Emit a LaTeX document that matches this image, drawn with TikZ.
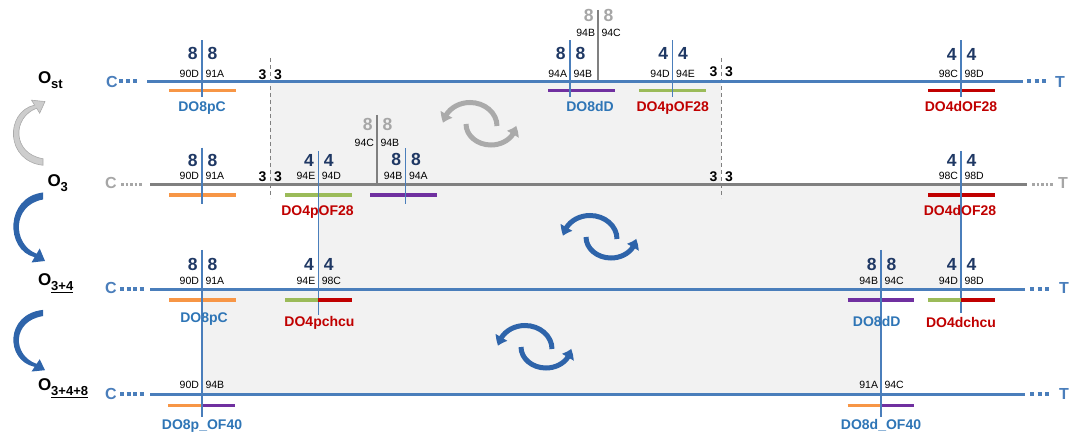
\documentclass[tikz,border=0pt]{standalone}
\usepackage{fontspec}
\setmainfont{Liberation Sans}
\usetikzlibrary{arrows.meta,bending}
\definecolor{lblue}{RGB}{74,126,187}
\definecolor{lgray}{RGB}{128,128,128}
\definecolor{navy}{RGB}{31,56,100}
\definecolor{dgray}{RGB}{166,166,166}
\definecolor{tblue}{RGB}{46,117,182}
\definecolor{tred}{RGB}{192,0,0}
\definecolor{borange}{RGB}{247,150,70}
\definecolor{bgreen}{RGB}{155,187,89}
\definecolor{bpurple}{RGB}{112,48,160}
\definecolor{bgshade}{RGB}{242,242,242}
\definecolor{arrblue}{RGB}{46,100,170}
\definecolor{arrgray}{RGB}{170,170,170}
\definecolor{arrgrayfill}{RGB}{205,205,205}
\newcommand\mkdig[6]{%
  \node[#6, anchor=base east] (#1l) at (#2-4.5,#3) {#4};
  \node[#6, anchor=base west] (#1r) at (#2+5.5,#3) {#5};}
\newcommand\mksm[5]{%
  \node[sm, anchor=base east] (#1l) at (#2-3,#3) {#4};
  \node[sm, anchor=base west] (#1r) at (#2+3.5,#3) {#5};}
\newcommand\mkthree[3]{%
  \node[thr, anchor=base east] (#1l) at (#2-3.5,#3) {3};
  \node[thr, anchor=base west] (#1r) at (#2+4,#3) {3};}
\begin{document}
\begin{tikzpicture}[x=1pt,y=-1pt,
  every node/.style={inner sep=0pt, outer sep=0pt},
  mainline/.style={line width=3pt},
  tick/.style={line width=1.5pt, draw=lblue},
  gtick/.style={line width=1.5pt, draw=lgray},
  bar/.style={line width=3.5pt},
  dig/.style={font=\fontsize{17.5}{17.5}\selectfont\bfseries, text=navy},
  gdig/.style={font=\fontsize{17.5}{17.5}\selectfont\bfseries, text=dgray},
  sm/.style={font=\fontsize{10.5}{10.5}\selectfont, text=black},
  thr/.style={font=\fontsize{14}{14}\selectfont\bfseries, text=black},
  dob/.style={font=\fontsize{14}{14}\selectfont\bfseries, text=tblue, anchor=base},
  dor/.style={font=\fontsize{14}{14}\selectfont\bfseries, text=tred, anchor=base},
  olab/.style={font=\fontsize{17}{17}\selectfont\bfseries, anchor=base west},
  ends/.style={font=\fontsize{16}{16}\selectfont\bfseries, anchor=base west},
  dashv/.style={dash pattern=on 4pt off 3pt, line width=1pt, draw=lgray},
  bigdots/.style={line width=4pt},
  smalldots/.style={line width=2.5pt},
  cycln/.style={line width=5pt, -{Triangle[width=13pt,length=9pt,bend]}},
  pics/cyc/.style={code={
    \draw[cycln] (17,1) arc[start angle=0,end angle=-172,x radius=27,y radius=23.5];
    \draw[cycln] (-14,-1) arc[start angle=180,end angle=5,x radius=25,y radius=21];
  }},
  pics/sidearrow/.style={code={
    \path[line width=0.6pt, pic actions] (0,-3.5) .. controls (-38,1) and (-38,54) .. (-8.4,61.2)
      -- (-11.5,66.5) -- (2,65) -- (-3.3,52.5) -- (-6.4,57.8)
      .. controls (-31,48) and (-31,9) .. (0,3.5) -- cycle;
  }}
]
\useasboundingbox (0,0) rectangle (1078,435);

% shaded regions
\fill[bgshade] (270,81.5) rectangle (721,184.7);
\fill[bgshade] (318,184.7) rectangle (961,289.3);
\fill[bgshade] (202,289.3) rectangle (881,394.3);

% dashed separators
\coordinate (dA1) at (270,58); \coordinate (dA2) at (270,198);
\coordinate (dB1) at (721,58); \coordinate (dB2) at (721,198);
\draw[dashv] (dA1) -- (dA2);
\draw[dashv] (dB1) -- (dB2);

% row labels
\node[olab] (lst) at (38,84) {O\raisebox{-5pt}{\fontsize{13}{13}\selectfont st}};
\node[olab] (l3) at (47.5,186.7) {O\raisebox{-5pt}{\fontsize{13}{13}\selectfont 3}};
\node[olab] (l34) at (38,286) {O\raisebox{-4.5pt}{\fontsize{13}{13}\selectfont\underline{3+4}}};
\node[olab] (l348) at (38,390.7) {O\raisebox{-4.5pt}{\fontsize{13}{13}\selectfont\underline{3+4+8}}};

% side arrows
\pic[yscale=-0.93, fill=arrgrayfill, draw=arrgray] (sideG) at (43,162) {sidearrow};
\pic[fill=arrblue] (sideB1) at (43,196) {sidearrow};
\pic[yscale=0.88, fill=arrblue] (sideB2) at (43,313) {sidearrow};

% ===== Row Ost (y=81.5)
\node[ends, text=lblue] (c1) at (106,87.3) {C};
\node[ends, text=lblue] (t1) at (1055,87.3) {T};
\coordinate (r1s) at (147,81.5); \coordinate (r1e) at (1023,81.5);
\coordinate (r1a) at (119,81.5); \coordinate (r1b) at (137.5,81.5);
\coordinate (r1c) at (1027,81.5); \coordinate (r1d) at (1046.5,81.5);
\draw[bigdots, lblue, dash pattern=on 4pt off 3pt] (r1a) -- (r1b);
\draw[bigdots, lblue, dash pattern=on 4pt off 3.5pt] (r1c) -- (r1d);
\draw[mainline, lblue] (r1s) -- (r1e);
\draw[bar, borange] (169,90.7) -- (235.7,90.7);
\draw[bar, bpurple] (548,90.7) -- (615,90.7);
\draw[bar, bgreen] (639,90.7) -- (706,90.7);
\draw[bar, tred] (928,90.7) -- (995,90.7);
\draw[tick] (202,40.5) -- (202,96.7);
\draw[tick] (570,40.5) -- (570,96.7);
\draw[gtick] (598,10) -- (598,80);
\draw[tick] (672.7,40.5) -- (672.7,96.7);
\draw[tick] (961,40.5) -- (961,96.7);
\mkdig{a1}{202}{60}{8}{8}{dig}
\mksm{s1}{202}{77.5}{90D}{91A}
\mkdig{a2}{570}{60}{8}{8}{dig}
\mksm{s2}{570}{77.5}{94A}{94B}
\mkdig{a3}{598}{21.7}{8}{8}{gdig}
\mksm{s3}{598}{36.7}{94B}{94C}
\mkdig{a4}{672.7}{60}{4}{4}{dig}
\mksm{s4}{672.7}{77.5}{94D}{94E}
\mkdig{a5}{961}{60.5}{4}{4}{dig}
\mksm{s5}{961}{77.5}{98C}{98D}
\mkthree{h1}{270}{79.5}
\mkthree{h2}{721}{76.5}
\node[dob] (n1) at (202,112) {DO8pC};
\node[dob] (n2) at (590,112) {DO8dD};
\node[dor] (n3) at (672.7,112) {DO4pOF28};
\node[dor] (n4) at (961,112) {DO4dOF28};

% ===== Row O3 (y=184.7)
\node[ends, text=dgray] (c2) at (105,188.3) {C};
\node[ends, text=dgray] (t2) at (1058,188.3) {T};
\coordinate (r2s) at (150,184.7); \coordinate (r2e) at (1027,184.7);
\coordinate (r2a) at (121,184.7); \coordinate (r2b) at (142,184.7);
\coordinate (r2c) at (1032,184.7); \coordinate (r2d) at (1053,184.7);
\draw[smalldots, dgray, dash pattern=on 2.5pt off 2pt] (r2a) -- (r2b);
\draw[smalldots, dgray, dash pattern=on 2.5pt off 2pt] (r2c) -- (r2d);
\draw[mainline, lgray] (r2s) -- (r2e);
\draw[bar, borange] (169,195) -- (235.7,195);
\draw[bar, bgreen] (285,195) -- (351.7,195);
\draw[bar, bpurple] (370,195) -- (437,195);
\draw[bar, tred] (928,195) -- (995,195);
\draw[tick] (202,147.7) -- (202,204);
\draw[tick] (318.3,151) -- (318.3,315);
\draw[gtick] (377,115) -- (377,184);
\draw[tick] (405.5,148.3) -- (405.5,204);
\draw[tick] (961,151) -- (961,313);
\mkdig{b1}{202}{166.7}{8}{8}{dig}
\mksm{u1}{202}{180}{90D}{91A}
\mkdig{b2}{318.3}{166.7}{4}{4}{dig}
\mksm{u2}{318.3}{180}{94E}{94D}
\mkdig{b3}{377}{130.7}{8}{8}{gdig}
\mksm{u3}{377}{146.7}{94C}{94B}
\mkdig{b4}{405.5}{165.7}{8}{8}{dig}
\mksm{u4}{405.5}{180}{94B}{94A}
\mkdig{b5}{961}{166.7}{4}{4}{dig}
\mksm{u5}{961}{180}{98C}{98D}
\mkthree{h3}{270}{181.7}
\mkthree{h4}{721}{181.7}
\node[dor] (m1) at (317.5,216) {DO4pOF28};
\node[dor] (m2) at (960,216) {DO4dOF28};

% ===== Row O3+4 (y=289.3)
\node[ends, text=lblue] (c3) at (105,293.3) {C};
\node[ends, text=lblue] (t3) at (1059,293.8) {T};
\coordinate (r3s) at (150,289.3); \coordinate (r3e) at (1025,289.3);
\coordinate (r3a) at (120,289.3); \coordinate (r3b) at (143.5,289.3);
\coordinate (r3c) at (1030,289.3); \coordinate (r3d) at (1049,289.3);
\draw[bigdots, lblue, dash pattern=on 4pt off 2.5pt] (r3a) -- (r3b);
\draw[bigdots, lblue, dash pattern=on 4pt off 3.5pt] (r3c) -- (r3d);
\draw[mainline, lblue] (r3s) -- (r3e);
\draw[bar, borange] (169,300) -- (235.7,300);
\draw[bar, bgreen] (285,300) -- (318.3,300);
\draw[bar, tred] (318.3,300) -- (351.7,300);
\draw[bar, bpurple] (847.7,300) -- (914.3,300);
\draw[bar, bgreen] (927.5,300) -- (961,300);
\draw[bar, tred] (961,300) -- (994.5,300);
\draw[tick] (202,250) -- (202,416.7);
\draw[tick] (881,250) -- (881,416.7);
\mkdig{c1d}{202}{270.7}{8}{8}{dig}
\mksm{v1}{202}{285}{90D}{91A}
\mkdig{c2d}{318.3}{270.7}{4}{4}{dig}
\mksm{v2}{318.3}{285}{94E}{98C}
\mkdig{c3d}{881}{270.7}{8}{8}{dig}
\mksm{v3}{881}{285}{94B}{94C}
\mkdig{c4d}{961}{270.2}{4}{4}{dig}
\mksm{v4}{961}{285}{94D}{98D}
\node[dob] (k1) at (204,322.7) {DO8pC};
\node[dor] (k2) at (319.5,326.7) {DO4pchcu};
\node[dob] (k3) at (876.7,326.3) {DO8dD};
\node[dor] (k4) at (961,327) {DO4dchcu};

% ===== Row O3+4+8 (y=394.3)
\node[ends, text=lblue] (c4) at (105,399) {C};
\node[ends, text=lblue] (t4) at (1059,399) {T};
\coordinate (r4s) at (150,394.3); \coordinate (r4e) at (1025,394.3);
\coordinate (r4a) at (120,394.3); \coordinate (r4b) at (143.5,394.3);
\coordinate (r4c) at (1030,394.3); \coordinate (r4d) at (1049,394.3);
\draw[bigdots, lblue, dash pattern=on 4pt off 2.5pt] (r4a) -- (r4b);
\draw[bigdots, lblue, dash pattern=on 4pt off 3.5pt] (r4c) -- (r4d);
\draw[mainline, lblue] (r4s) -- (r4e);
\draw[bar, borange] (168,405.7) -- (202,405.7);
\draw[bar, bpurple] (202,405.7) -- (235.3,405.7);
\draw[bar, borange] (847.7,405.7) -- (881,405.7);
\draw[bar, bpurple] (881,405.7) -- (914.3,405.7);
\draw[tick] (202,380) -- (202,416.7);
\draw[tick] (881,380) -- (881,416.7);
\mksm{w1}{202}{388.3}{90D}{94B}
\mksm{w2}{881}{388.3}{91A}{94C}
\node[dob] (j1) at (202,429) {DO8p\_OF40};
\node[dob] (j2) at (881,429) {DO8d\_OF40};

% cycle icons
\pic[color=arrgray] (cycG) at (480,125) {cyc};
\pic[color=arrblue] (cycB1) at (600,238) {cyc};
\pic[color=arrblue] (cycB2) at (535,348) {cyc};
\end{tikzpicture}
\end{document}
